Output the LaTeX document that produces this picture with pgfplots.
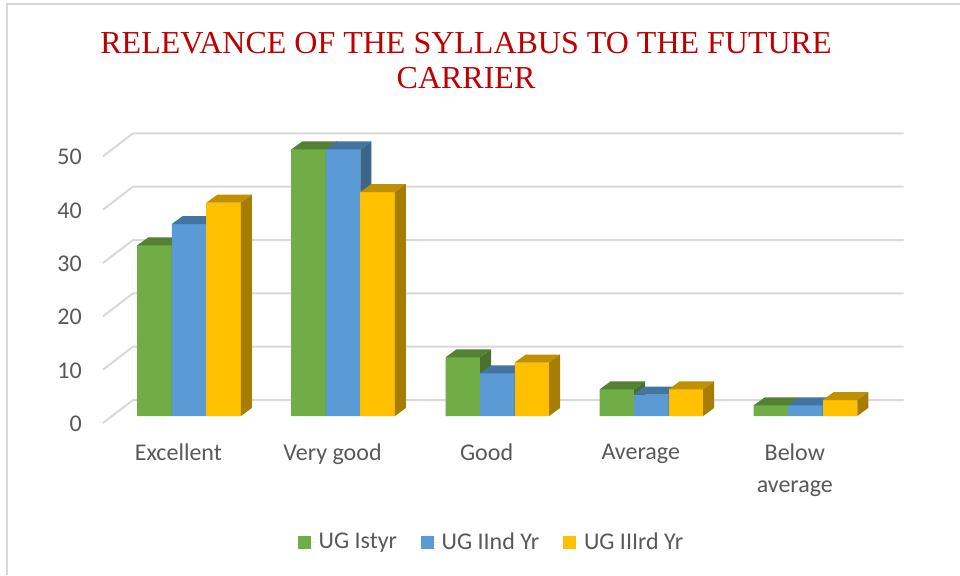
\documentclass[border=0pt]{standalone}
\usepackage{pgfplots}
\pgfplotsset{compat=1.18}
\usepackage{fontspec}
\setmainfont{Carlito}
\newfontfamily\titlefont{Liberation Serif}
\definecolor{cg}{HTML}{70AD47}
\definecolor{cb}{HTML}{5B9BD5}
\definecolor{cy}{HTML}{FFC000}
\colorlet{cgt}{cg!75!black}
\colorlet{cgs}{cg!65!black}
\colorlet{cbt}{cb!75!black}
\colorlet{cbs}{cb!65!black}
\colorlet{cyt}{cy!75!black}
\colorlet{cys}{cy!65!black}
\definecolor{txt}{HTML}{595959}
\definecolor{gridc}{HTML}{D9D9D9}
\definecolor{titlec}{HTML}{C00000}

% 3D bar (front, top and side faces), drawn at the data point (front-top centre)
\newcommand\declbar[4]{%
\pgfdeclareplotmark{#1}{%
  \pgfpathrectangle{\pgfqpoint{-12.94pt}{0pt}}{\pgfpoint{25.88pt}{0pt-\myy*4pt}}%
  \pgfsetfillcolor{#2}\pgfusepath{fill}%
  \pgfpathmoveto{\pgfqpoint{-12.94pt}{0pt}}%
  \pgfpathlineto{\pgfqpoint{12.94pt}{0pt}}%
  \pgfpathlineto{\pgfqpoint{21.19pt}{6pt}}%
  \pgfpathlineto{\pgfqpoint{-4.69pt}{6pt}}%
  \pgfpathclose
  \pgfsetfillcolor{#3}\pgfusepath{fill}%
  \pgfpathmoveto{\pgfqpoint{12.94pt}{0pt}}%
  \pgfpathlineto{\pgfqpoint{21.19pt}{6pt}}%
  \pgfpathlineto{\pgfpoint{21.19pt}{6pt-\myy*4pt}}%
  \pgfpathlineto{\pgfpoint{12.94pt}{0pt-\myy*4pt}}%
  \pgfpathclose
  \pgfsetfillcolor{#4}\pgfusepath{fill}%
}}
\declbar{bthreeG}{cg}{cgt}{cgs}
\declbar{bthreeB}{cb}{cbt}{cbs}
\declbar{bthreeY}{cy}{cyt}{cys}

\pgfplotstableread{
x y
0 32
1 50
2 11
3 5
4 2
}\dataG
\pgfplotstableread{
x y
0 36
1 50
2 8
3 4
4 2
}\dataB
\pgfplotstableread{
x y
0 40
1 42
2 10
3 5
4 3
}\dataY

\begin{document}
\begin{tikzpicture}
\path[use as bounding box] (0,0) rectangle (720pt,431.25pt);
\fill[white] (0,0) rectangle (720pt,431.25pt);
\draw[gridc, line width=1.5pt] (5pt,0pt) -- (5pt,428.25pt) -- (720pt,428.25pt);
\node[anchor=north, inner sep=0pt, align=center, text=titlec,
      font=\titlefont\fontsize{24}{26.5}\selectfont] at (349.5pt,407.25pt)
      {RELEVANCE OF THE SYLLABUS TO THE FUTURE\\CARRIER};
\begin{axis}[
  at={(84pt,119.25pt)}, anchor=south west,
  x=115.58pt, y=4pt,
  xmin=-0.5, xmax=4.5, ymin=0, ymax=50,
  clip=false,
  axis line style={draw=none}, tick style={draw=none},
  xtick={0,1,2,3,4},
  xticklabels={Excellent,Very good,Good,Average,{Below\\average}},
  xticklabel style={anchor=north, inner sep=0pt, yshift=-21pt, xshift=-8pt,
     align=center, font=\fontsize{18}{24}\selectfont, text=txt},
  ytick={0,10,20,30,40,50},
  yticklabel style={anchor=east, inner sep=0pt, xshift=-22.5pt, yshift=-5.75pt,
     font=\fontsize{18}{21}\selectfont, text=txt},
  /pgf/number format/assume math mode=true,
  legend style={at={(axis description cs:0.493,-0.473)}, anchor=center,
     legend columns=-1, draw=none, fill=none,
     font=\fontsize{18}{21}\selectfont, text=txt,
     /tikz/every even column/.append style={column sep=16pt}},
  legend image code/.code={\fill[#1] (0pt,-4.875pt) rectangle (9.75pt,4.875pt);
     \path (0pt,0pt) -- (13.5pt,0pt);},
]
% back wall grid lines and floor diagonals
\pgfplotsinvokeforeach{0,10,20,30,40,50}{
  \draw[gridc, line width=1.5pt]
    ([xshift=-6.75pt,yshift=-5.25pt]axis cs:-0.5,#1) --
    ([xshift=15.75pt,yshift=12pt]axis cs:-0.5,#1) --
    ([xshift=15.75pt,yshift=12pt]axis cs:4.5,#1);
}
\addplot[ybar, bar width=25.88pt, bar shift=-25.88pt, fill=cg, draw=none]
  table[x=x,y=y]{\dataG};
\addlegendentry{UG Istyr}
\addplot[ybar, bar width=25.88pt, bar shift=0pt, fill=cb, draw=none]
  table[x=x,y=y]{\dataB};
\addlegendentry{UG IInd Yr}
\addplot[ybar, bar width=25.88pt, bar shift=25.88pt, fill=cy, draw=none]
  table[x=x,y=y]{\dataY};
\addlegendentry{UG IIIrd Yr}
\addplot[only marks, mark=bthreeG, xshift=-25.88pt, forget plot,
  visualization depends on={rawy \as \myy}] table[x=x,y=y]{\dataG};
\addplot[only marks, mark=bthreeB, forget plot,
  visualization depends on={rawy \as \myy}] table[x=x,y=y]{\dataB};
\addplot[only marks, mark=bthreeY, xshift=25.88pt, forget plot,
  visualization depends on={rawy \as \myy}] table[x=x,y=y]{\dataY};
\end{axis}
\end{tikzpicture}
\end{document}
